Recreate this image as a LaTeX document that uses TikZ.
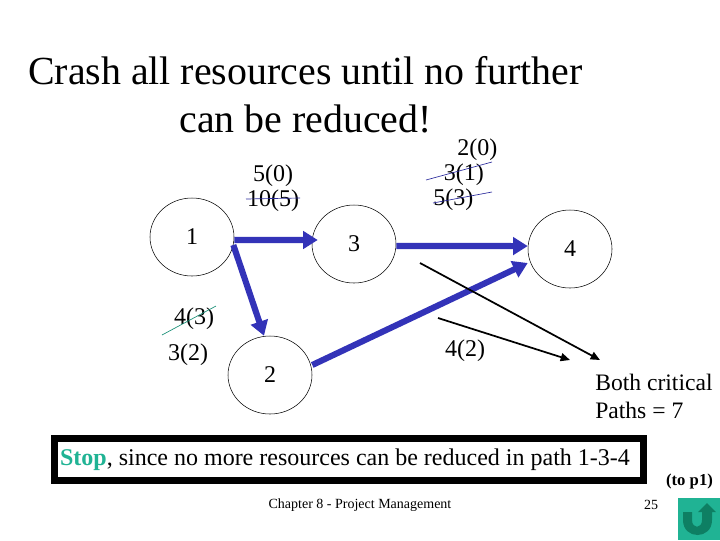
\documentclass[tikz,border=0pt]{standalone}
\usepackage{fontspec}
\setmainfont{Liberation Serif}
\usetikzlibrary{arrows.meta,shapes.geometric}
\definecolor{critblue}{HTML}{3333B8}
\definecolor{stopteal}{HTML}{20B394}
\definecolor{backgreen}{HTML}{0E7F63}
\tikzset{
    event/.style={ellipse, draw, minimum width=63pt, minimum height=58.5pt, inner sep=0pt, font=\fontsize{18}{20}\selectfont},
    cost/.style={align=left, inner sep=0pt, font=\fontsize{18}{18.8}\selectfont},
    critical/.style={line width=4.6pt, critblue, -{Triangle[length=11pt,width=13pt]}},
    pointer/.style={line width=1.3pt, -{Triangle[length=7pt,width=6pt]}},
    strike/.style={line width=.5pt, critblue!85!black}
}
\begin{document}
\begin{tikzpicture}[x=.75pt, y=-.75pt]
        \useasboundingbox (0,0) rectangle (720,540);
        \node[align=center, inner sep=0pt, font=\fontsize{29.9}{36}\selectfont] at (305.5,95) (title) {Crash all resources until no further\\can be reduced!};
        \node[event] (n1) at (192,237) {1};
        \node[event] (n3) at (354,244) {3};
        \node[event] (n4) at (570,249) {4};
        \node[event] (n2) at (270,375) {2};
        \draw[critical] ([yshift=-2.2pt]n1.east) -- ([xshift=4.5pt,yshift=3pt]n3.west);
        \draw[critical] ([yshift=-1.5pt]n3.east) -- ([yshift=2.2pt]n4.west);
        \draw[critical] ([xshift=-.7pt,yshift=-6pt]n1.east) -- ([xshift=-4.5pt]n2.north);
        \draw[critical] ([yshift=7.5pt]n2.east) -- ([yshift=-10.5pt]n4.west);
        \node[cost, anchor=center] at (273,188) (c13) {\hspace*{4.5pt}5(0)\\10(5)};
        \node[cost, anchor=west] at (433,174.5) (c34) {\hspace*{18pt}2(0)\\\hspace*{8pt}3(1)\\5(3)};
        \node[cost] at (194,319) (c12a) {4(3)};
        \node[cost] at (188,355) (c12b) {3(2)};
        \node[cost] at (465,351) (c24) {4(2)};
        \coordinate (s1a) at (246,199);
        \coordinate (s1b) at (300,198);
        \coordinate (s2a) at (426,180);
        \coordinate (s2b) at (492,162);
        \coordinate (s3a) at (433,203);
        \coordinate (s3b) at (492,192);
        \coordinate (s4a) at (162,335);
        \coordinate (s4b) at (216,306);
        \draw[strike] (s1a) -- (s1b);
        \draw[strike] (s2a) -- (s2b);
        \draw[strike] (s3a) -- (s3b);
        \draw[line width=.5pt, stopteal!80!black] (s4a) -- (s4b);
        \coordinate (p1a) at (420,263);
        \coordinate (p1b) at (600,360);
        \coordinate (p2a) at (438,318);
        \coordinate (p2b) at (570,360);
        \draw[pointer] (p1a) -- (p1b);
        \draw[pointer] (p2a) -- (p2b);
        \node[align=left, anchor=west, inner sep=0pt, font=\fontsize{17.7}{21}\selectfont] at (595,396) (note) {Both critical\\Paths = 7};
        \node[draw, line width=5.2pt, minimum width=441.8pt, minimum height=31.6pt, inner sep=0pt, font=\fontsize{18}{20}\selectfont] at (349,459.5) (stop) {\textcolor{stopteal}{\textbf{Stop}}, since no more resources can be reduced in path 1-3-4\hspace*{6pt}};
        \node[inner sep=0pt, font=\fontsize{10.5}{12}\selectfont] at (360,505) (chapter) {Chapter 8 - Project Management};
        \node[inner sep=0pt, font=\fontsize{10.5}{12}\selectfont] at (651,505) (page) {25};
        \node[inner sep=0pt, font=\bfseries\fontsize{12.5}{14}\selectfont] at (689.5,481) (back) {(to p1)};
        \fill[stopteal] (678,498) rectangle (720,540);
        \fill[backgreen] (683,512) -- (692,512) -- (692,520) .. controls (692,529) and (702,529) .. (702,520) -- (702,512) -- (698,512) -- (707,503) -- (716,512) -- (712,512) -- (712,520) .. controls (712,540) and (683,540) .. (683,520) -- cycle;
    \end{tikzpicture}
\end{document}
